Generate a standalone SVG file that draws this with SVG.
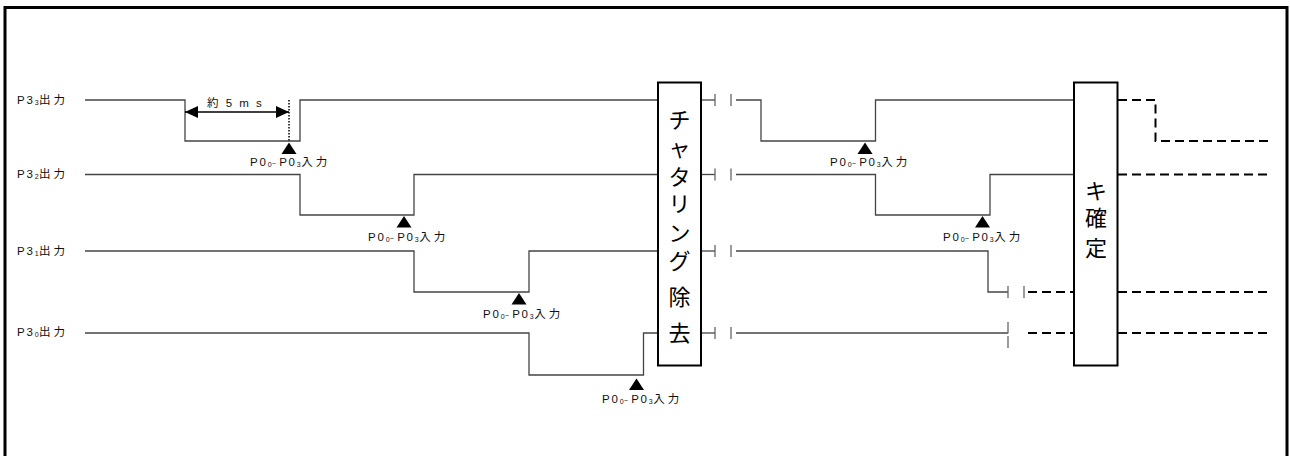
<svg xmlns="http://www.w3.org/2000/svg" width="1290" height="456" viewBox="0 0 1290 456">
<defs>
<style>
.sig{fill:none;stroke:#444;stroke-width:1.3}
.dash{fill:none;stroke:#000;stroke-width:2;stroke-dasharray:9 5}
.box{fill:#fff;stroke:#000;stroke-width:2}
.tick{stroke:#666;stroke-width:1.3}
.lbl{font-family:"Liberation Sans","Noto Sans CJK JP",sans-serif;font-size:11.5px;fill:#111;letter-spacing:1.8px}
.sub{font-size:7px;letter-spacing:0.5px}
.jp{letter-spacing:3px}
.big{font-family:"Noto Sans CJK JP",sans-serif;font-size:22px;fill:#000;text-anchor:middle}
.tri{fill:#000}
</style>
<marker id="ah" viewBox="0 0 13 12" refX="13" refY="6" markerWidth="13" markerHeight="12" markerUnits="userSpaceOnUse" orient="auto-start-reverse">
<path d="M0,0 L13,6 L0,12 Z" fill="#000"/>
</marker>
</defs>
<rect x="5" y="7.5" width="1282" height="460" fill="none" stroke="#000" stroke-width="3"/>

<g id="labels">
<text class="lbl" x="17" y="104">P3<tspan class="sub" dy="1">3</tspan><tspan class="jp" dy="-1">出力</tspan></text>
<text class="lbl" x="17" y="178">P3<tspan class="sub" dy="1">2</tspan><tspan class="jp" dy="-1">出力</tspan></text>
<text class="lbl" x="17" y="255">P3<tspan class="sub" dy="1">1</tspan><tspan class="jp" dy="-1">出力</tspan></text>
<text class="lbl" x="17" y="336">P3<tspan class="sub" dy="1">0</tspan><tspan class="jp" dy="-1">出力</tspan></text>
</g>

<g id="connectors">
<polyline class="sig" points="85,100 185,100 185,141 300,141 300,100 658,100"/>
<polyline class="sig" points="85,174.5 300,174.5 300,215 414,215 414,174.5 658,174.5"/>
<polyline class="sig" points="85,251 414,251 414,292 529,292 529,251 658,251"/>
<polyline class="sig" points="85,333 529,333 529,375 643.5,375 643.5,333 658,333"/>
<line x1="185" y1="112" x2="289" y2="112" stroke="#000" stroke-width="1.5" marker-start="url(#ah)" marker-end="url(#ah)"/>
<line x1="289" y1="100" x2="289" y2="141" stroke="#000" stroke-width="1.5" stroke-dasharray="1.5 1.5"/>
<line class="sig" x1="701" y1="100" x2="715" y2="100"/>
<line class="sig" x1="701" y1="174.5" x2="715" y2="174.5"/>
<line class="sig" x1="701" y1="251" x2="715" y2="251"/>
<line class="sig" x1="701" y1="333" x2="715" y2="333"/>
<g class="tick">
<line x1="715" y1="94" x2="715" y2="106"/><line x1="731" y1="94" x2="731" y2="106"/>
<line x1="715" y1="168.5" x2="715" y2="180.5"/><line x1="731" y1="168.5" x2="731" y2="180.5"/>
<line x1="715" y1="245" x2="715" y2="257"/><line x1="731" y1="245" x2="731" y2="257"/>
<line x1="715" y1="327" x2="715" y2="339"/><line x1="731" y1="327" x2="731" y2="339"/>
</g>
<polyline class="sig" points="736,100 761,100 761,141 875.5,141 875.5,100 1074,100"/>
<polyline class="sig" points="736,174.5 875.5,174.5 875.5,215 990,215 990,174.5 1074,174.5"/>
<polyline class="sig" points="736,251 988,251 988,292 1008,292"/>
<line class="sig" x1="736" y1="333" x2="1008" y2="333"/>
<g class="tick">
<line x1="1008" y1="286" x2="1008" y2="298"/><line x1="1024" y1="286" x2="1024" y2="298"/>
<line x1="1008" y1="322" x2="1008" y2="333.5"/><line x1="1008" y1="336" x2="1008" y2="348"/>
</g>
<line class="dash" x1="1028" y1="292" x2="1073" y2="292"/>
<line class="dash" x1="1028" y1="333" x2="1073" y2="333"/>
<polyline class="dash" points="1118,100 1155.5,100 1155.5,141 1268,141"/>
<line class="dash" x1="1118" y1="174.5" x2="1268" y2="174.5"/>
<line class="dash" x1="1118" y1="292" x2="1268" y2="292"/>
<line class="dash" x1="1118" y1="333" x2="1268" y2="333"/>
</g>

<g id="note5ms">
<text class="lbl" x="207" y="107" style="letter-spacing:2px">約 5 m s</text>
</g>

<g id="inputs">
<polygon class="tri" points="289,142.5 281.5,154 296.5,154"/>
<text class="lbl" x="250" y="166">P0<tspan class="sub" dy="1">0</tspan><tspan class="sub" dy="-1">~ </tspan>P0<tspan class="sub" dy="1">3</tspan><tspan class="jp" dy="-1">入力</tspan></text>
<polygon class="tri" points="404,216 396.5,227.5 411.5,227.5"/>
<text class="lbl" x="368" y="241">P0<tspan class="sub" dy="1">0</tspan><tspan class="sub" dy="-1">~ </tspan>P0<tspan class="sub" dy="1">3</tspan><tspan class="jp" dy="-1">入力</tspan></text>
<polygon class="tri" points="519,293 511.5,304.5 526.5,304.5"/>
<text class="lbl" x="483" y="318">P0<tspan class="sub" dy="1">0</tspan><tspan class="sub" dy="-1">~ </tspan>P0<tspan class="sub" dy="1">3</tspan><tspan class="jp" dy="-1">入力</tspan></text>
<polygon class="tri" points="636.5,378.5 629,390 644,390"/>
<text class="lbl" x="602" y="403">P0<tspan class="sub" dy="1">0</tspan><tspan class="sub" dy="-1">~ </tspan>P0<tspan class="sub" dy="1">3</tspan><tspan class="jp" dy="-1">入力</tspan></text>
<polygon class="tri" points="865,142.5 857.5,154 872.5,154"/>
<text class="lbl" x="830" y="166">P0<tspan class="sub" dy="1">0</tspan><tspan class="sub" dy="-1">~ </tspan>P0<tspan class="sub" dy="1">3</tspan><tspan class="jp" dy="-1">入力</tspan></text>
<polygon class="tri" points="982.5,216 975,227.5 990,227.5"/>
<text class="lbl" x="943" y="241">P0<tspan class="sub" dy="1">0</tspan><tspan class="sub" dy="-1">~ </tspan>P0<tspan class="sub" dy="1">3</tspan><tspan class="jp" dy="-1">入力</tspan></text>
</g>

<g id="chattering">
<rect class="box" x="658" y="82.5" width="43" height="283"/>
<text class="big" x="679.5" y="128">チ</text>
<text class="big" x="679.5" y="156">ャ</text>
<text class="big" x="679.5" y="185">タ</text>
<text class="big" x="679.5" y="212">リ</text>
<text class="big" x="679.5" y="241">ン</text>
<text class="big" x="679.5" y="269">グ</text>
<text class="big" x="679.5" y="305">除</text>
<text class="big" x="679.5" y="341">去</text>
</g>

<g id="keyconfirm">
<rect class="box" x="1074" y="82.5" width="43.5" height="283"/>
<text class="big" x="1096" y="199">キ</text>
<text class="big" x="1096" y="226">確</text>
<text class="big" x="1096" y="256">定</text>
</g>
</svg>
